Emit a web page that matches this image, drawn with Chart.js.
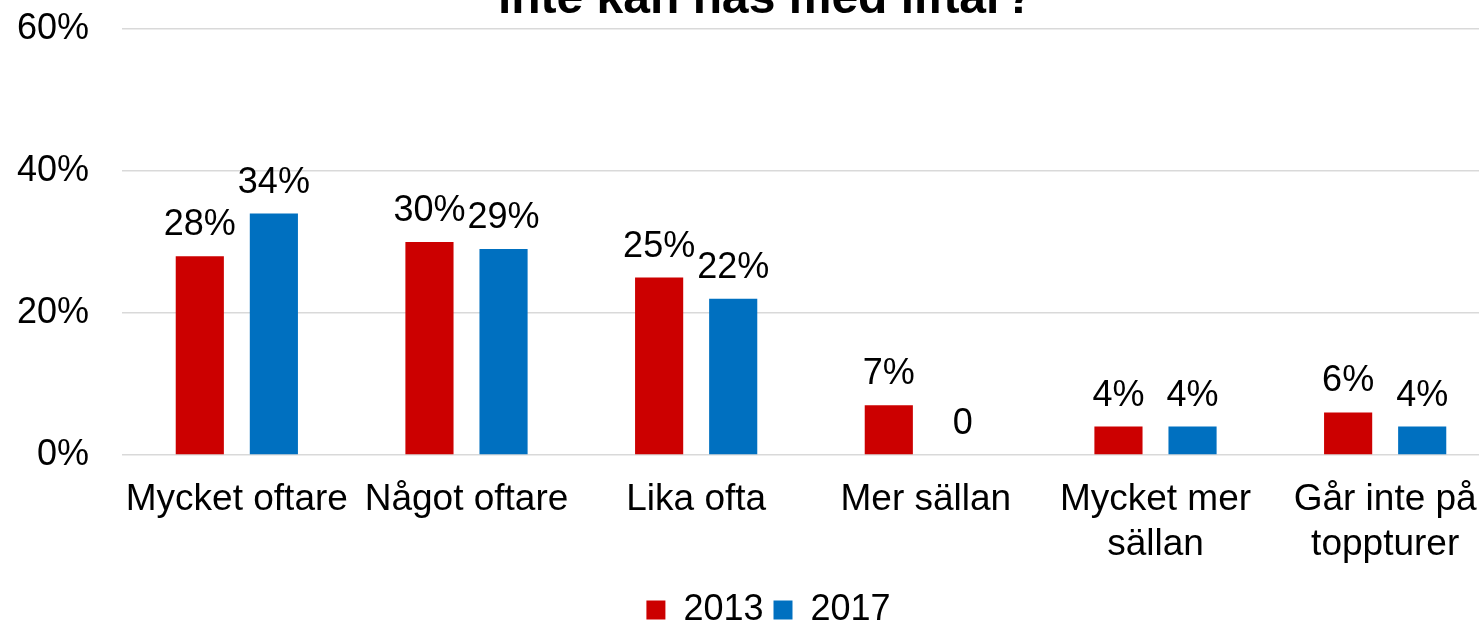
<!DOCTYPE html>
<html>
<head>
<meta charset="utf-8">
<script src="https://cdn.jsdelivr.net/npm/chart.js@4"></script>
<style>
  html, body { margin: 0; padding: 0; background: #fff; overflow: hidden; }
  #wrap { width: 1479px; height: 622px; overflow: hidden; }
  #box { width: 1536px; height: 638px; }
</style>
</head>
<body>
<div id="wrap"><div id="box"><canvas id="chart"></canvas></div></div>
<script>
const categories = ['Mycket oftare', 'Något oftare', 'Lika ofta', 'Mer sällan', ['Mycket mer', 'sällan'], ['Går inte på', 'toppturer']];
const values2013 = [28, 30, 25, 7, 4, 6];
const values2017 = [34, 29, 22, 0, 4, 4];
const yTicks = [0, 20, 40, 60];
const titleText = 'inte kan nås med liftar?';

const FONT = '"Liberation Sans", Arial, sans-serif';
Chart.defaults.font.family = FONT;
Chart.defaults.font.size = 36;
Chart.defaults.color = '#000';

// title is cut off at the top of the picture, draw it by hand
const titlePlugin = {
  id: 'cutTitle',
  afterDraw(chart) {
    const ctx = chart.ctx;
    ctx.save();
    ctx.font = 'bold 48px ' + FONT;
    ctx.fillStyle = '#000';
    ctx.textAlign = 'center';
    ctx.textBaseline = 'alphabetic';
    ctx.fillText(titleText, 766, 13);
    ctx.restore();
  }
};

const valueLabels = {
  id: 'valueLabels',
  afterDatasetsDraw(chart) {
    const ctx = chart.ctx;
    ctx.save();
    ctx.font = '36px ' + FONT;
    ctx.fillStyle = '#000';
    ctx.textAlign = 'center';
    ctx.textBaseline = 'alphabetic';
    chart.data.datasets.forEach((ds, i) => {
      chart.getDatasetMeta(i).data.forEach((bar, j) => {
        const v = ds.data[j];
        ctx.fillText(v === 0 ? '0' : v + '%', bar.x, bar.y - 21);
      });
    });
    ctx.restore();
  }
};

// nudge the legend so it sits centred under the whole chart like the original
const legendShift = {
  id: 'legendShift',
  afterLayout(chart) {
    const lg = chart.legend;
    if (!lg) return;
    lg.left += 10;
    lg.right += 10;
  }
};

new Chart(document.getElementById('chart'), {
  type: 'bar',
  data: {
    labels: categories,
    datasets: [
      { label: '2013', data: values2013, backgroundColor: '#CC0000', categoryPercentage: 0.645, barPercentage: 0.65 },
      { label: '2017', data: values2017, backgroundColor: '#0070C0', categoryPercentage: 0.645, barPercentage: 0.65 }
    ]
  },
  options: {
    responsive: true,
    maintainAspectRatio: false,
    animation: false,
    layout: { padding: { left: 17, right: 36, top: 29, bottom: 0 } },
    scales: {
      x: {
        grid: { display: false },
        border: { display: false },
        ticks: { padding: 15, maxRotation: 0, autoSkip: false, font: { size: 37 } },
        afterFit(scale) {
          scale.height = 127;
          scale.paddingLeft = 0;
          scale.paddingRight = 0;
        }
      },
      y: {
        min: 0,
        max: 60,
        afterBuildTicks(scale) { scale.ticks = yTicks.map(v => ({ value: v })); },
        grid: { color: '#d9d9d9', lineWidth: 1.5, drawTicks: false },
        border: { display: false },
        ticks: { padding: 33, callback: v => v + '%' },
        afterFit(scale) {
          scale.width = 105;
          scale.paddingTop = 0;
          scale.paddingBottom = 0;
        }
      }
    },
    plugins: {
      legend: {
        position: 'bottom',
        labels: { boxWidth: 19, boxHeight: 19, padding: 10 }
      },
      tooltip: { enabled: false },
      title: { display: false }
    }
  },
  plugins: [titlePlugin, valueLabels, legendShift]
});
</script>
</body>
</html>
